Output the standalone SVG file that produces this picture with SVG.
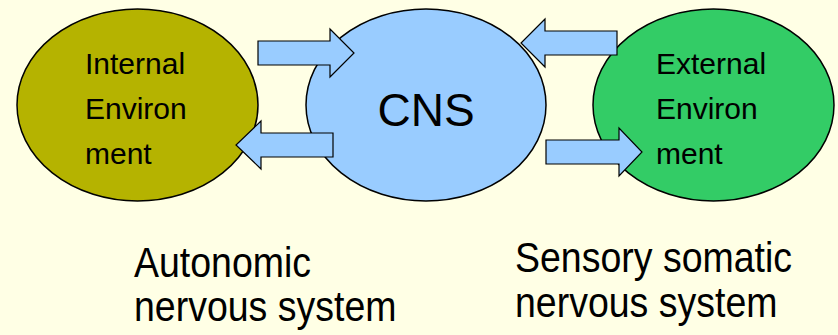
<svg xmlns="http://www.w3.org/2000/svg" width="838" height="335" viewBox="0 0 838 335">
<style>
.bg{fill:#FFFFE5}
.node{stroke:#000;stroke-width:1.5}
.arrow{fill:#99CCFF;stroke:#000;stroke-width:1.2;stroke-linejoin:miter}
.t{font-family:"Liberation Sans",Arial,sans-serif;fill:#000}
.nt{font-size:30px}
.big{font-size:46px}
.lab{font-size:37.5px}
</style>
<rect class="bg" x="0" y="0" width="838" height="335"/>
<g id="internal">
<ellipse class="node" cx="137.5" cy="105" rx="120.5" ry="96" fill="#B5B300"/>
<text class="t nt" x="85" y="74">Internal</text>
<text class="t nt" x="85" y="119">Environ</text>
<text class="t nt" x="85" y="164">ment</text>
</g>
<g id="cns">
<ellipse class="node" cx="426" cy="105" rx="120" ry="96" fill="#99CCFF"/>
<text class="t big" x="426" y="126" text-anchor="middle">CNS</text>
</g>
<g id="external">
<ellipse class="node" cx="713.5" cy="105" rx="120.5" ry="96" fill="#33CC66"/>
<text class="t nt" x="656" y="74">External</text>
<text class="t nt" x="656" y="119">Environ</text>
<text class="t nt" x="656" y="164">ment</text>
</g>
<g id="connectors">
<polygon class="arrow" points="258,41 330,41 330,29 354,53 330,77 330,65 258,65"/>
<polygon class="arrow" points="333,133 261,133 261,121 236,145 261,169 261,157 333,157"/>
<polygon class="arrow" points="617,31 545,31 545,19 521,43 545,67 545,55 617,55"/>
<polygon class="arrow" points="546,140 619,140 619,128 642,152 619,176 619,164 546,164"/>
</g>
<g id="autonomic">
<text class="t lab" transform="translate(134,277) scale(1,1.12)">Autonomic</text>
<text class="t lab" transform="translate(134,321) scale(1,1.12)">nervous system</text>
</g>
<g id="sensory">
<text class="t lab" transform="translate(515,272) scale(1,1.12)">Sensory somatic</text>
<text class="t lab" transform="translate(515,317) scale(1,1.12)">nervous system</text>
</g>
</svg>
